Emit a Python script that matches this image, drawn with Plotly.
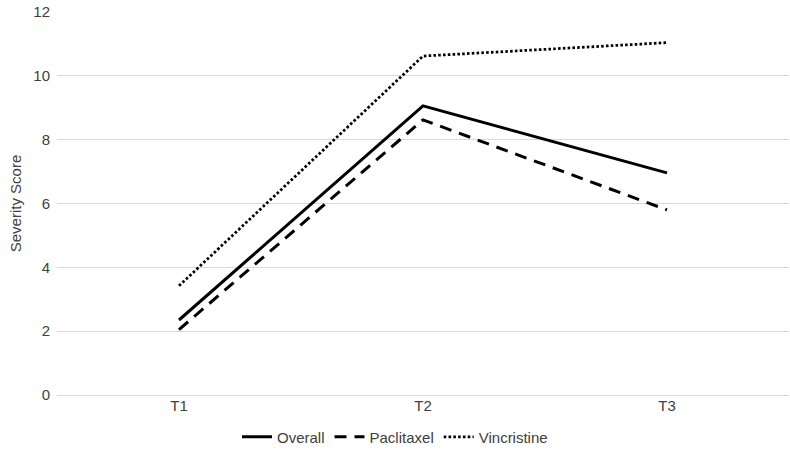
import plotly.graph_objects as go

timepoints = ["T1", "T2", "T3"]
overall = [2.35, 9.06, 6.96]
paclitaxel = [2.05, 8.62, 5.8]
vincristine = [3.42, 10.62, 11.04]

fig = go.Figure()
fig.add_trace(go.Scatter(x=timepoints, y=overall, name="Overall", mode="lines",
                         line=dict(color="black", width=3, dash="solid")))
fig.add_trace(go.Scatter(x=timepoints, y=paclitaxel, name="Paclitaxel", mode="lines",
                         line=dict(color="black", width=3, dash="12px,8px")))
fig.add_trace(go.Scatter(x=timepoints, y=vincristine, name="Vincristine", mode="lines",
                         line=dict(color="black", width=2.75, dash="2.6px,2.2px")))

fig.update_layout(
    width=790, height=454,
    margin=dict(l=57, r=1, t=12, b=59, autoexpand=False),
    paper_bgcolor="white", plot_bgcolor="white",
    font=dict(family="Liberation Sans, Arial, sans-serif", size=15, color="#404040"),
    showlegend=True,
    legend=dict(orientation="h", x=0.5, xanchor="center", xref="container",
                y=17/454, yanchor="middle", yref="container",
                font=dict(size=15, color="#404040"), itemwidth=30),
    xaxis=dict(range=[-0.5, 2.5], showgrid=False, zeroline=False, showline=False,
               ticks="", tickfont=dict(size=15, color="#404040")),
    yaxis=dict(range=[0, 12], dtick=2, showgrid=True, gridcolor="#d9d9d9", gridwidth=1,
               zeroline=True, zerolinecolor="#d9d9d9", zerolinewidth=1, showline=False,
               ticks="", ticklabelstandoff=6, tickfont=dict(size=15, color="#404040"),
               title=dict(text="Severity Score", font=dict(size=15, color="#404040"), standoff=8)),
)

fig.write_html("out.html")
